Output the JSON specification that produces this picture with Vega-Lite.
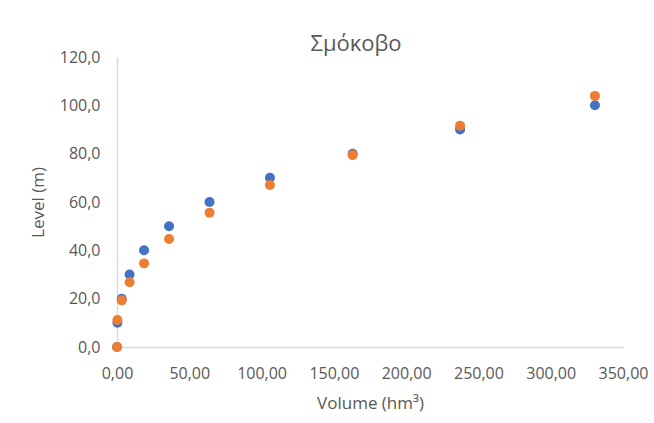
{
  "$schema": "https://vega.github.io/schema/vega-lite/v6.json",
  "autosize": "none",
  "width": 506,
  "height": 290,
  "padding": {"left": 117, "top": 57, "right": 31, "bottom": 76},
  "background": "white",
  "config": {
    "font": "Open Sans",
    "view": {"stroke": null},
    "locale": {
      "number": {"decimal": ",", "thousands": ".", "grouping": [3], "currency": ["", " €"]}
    },
    "axis": {
      "grid": false,
      "ticks": false,
      "domainColor": "#D9D9D9",
      "domainWidth": 1.5,
      "labelColor": "#595959",
      "labelFont": "Open Sans",
      "labelFontSize": 16,
      "labelOverlap": false,
      "labelFlush": false,
      "titleColor": "#595959",
      "titleFont": "Open Sans",
      "titleFontSize": 17,
      "titleFontWeight": "normal"
    }
  },
  "title": {
    "text": "Σμόκοβο",
    "font": "Open Sans",
    "fontSize": 22,
    "fontWeight": "normal",
    "color": "#595959",
    "anchor": "middle",
    "baseline": "alphabetic",
    "offset": 4,
    "dx": -14,
    "dy": 28
  },
  "data": {
    "values": [
      {"series": "Observed", "volume": 0, "level": 0},
      {"series": "Observed", "volume": 0.3, "level": 10},
      {"series": "Observed", "volume": 3.3, "level": 20},
      {"series": "Observed", "volume": 8.7, "level": 30},
      {"series": "Observed", "volume": 18.7, "level": 40},
      {"series": "Observed", "volume": 36, "level": 50},
      {"series": "Observed", "volume": 64, "level": 60},
      {"series": "Observed", "volume": 105.8, "level": 70},
      {"series": "Observed", "volume": 163, "level": 80},
      {"series": "Observed", "volume": 237.3, "level": 90},
      {"series": "Observed", "volume": 330.6, "level": 100},
      {"series": "Fitted", "volume": 0, "level": 0},
      {"series": "Fitted", "volume": 0.3, "level": 11.2},
      {"series": "Fitted", "volume": 3.3, "level": 19.3},
      {"series": "Fitted", "volume": 8.7, "level": 26.8},
      {"series": "Fitted", "volume": 18.7, "level": 34.6},
      {"series": "Fitted", "volume": 36, "level": 44.7},
      {"series": "Fitted", "volume": 64, "level": 55.6},
      {"series": "Fitted", "volume": 105.8, "level": 67},
      {"series": "Fitted", "volume": 163, "level": 79.4},
      {"series": "Fitted", "volume": 237.3, "level": 91.6},
      {"series": "Fitted", "volume": 330.6, "level": 103.9}
    ]
  },
  "mark": {"type": "circle", "size": 100, "opacity": 1},
  "encoding": {
    "x": {
      "field": "volume",
      "type": "quantitative",
      "scale": {"domain": [0, 350], "nice": false, "zero": false},
      "axis": {
        "title": "Volume (hm³)",
        "values": [0, 50, 100, 150, 200, 250, 300, 350],
        "format": ".2f",
        "labelPadding": 18,
        "titlePadding": 14
      }
    },
    "y": {
      "field": "level",
      "type": "quantitative",
      "scale": {"domain": [0, 120], "nice": false, "zero": false},
      "axis": {
        "title": "Level (m)",
        "values": [0, 20, 40, 60, 80, 100, 120],
        "format": ".1f",
        "labelPadding": 17,
        "titlePadding": 12
      }
    },
    "color": {
      "field": "series",
      "type": "nominal",
      "scale": {"domain": ["Observed", "Fitted"], "range": ["#4472C4", "#ED7D31"]},
      "legend": null
    },
    "order": {"field": "series", "sort": "descending"}
  }
}
